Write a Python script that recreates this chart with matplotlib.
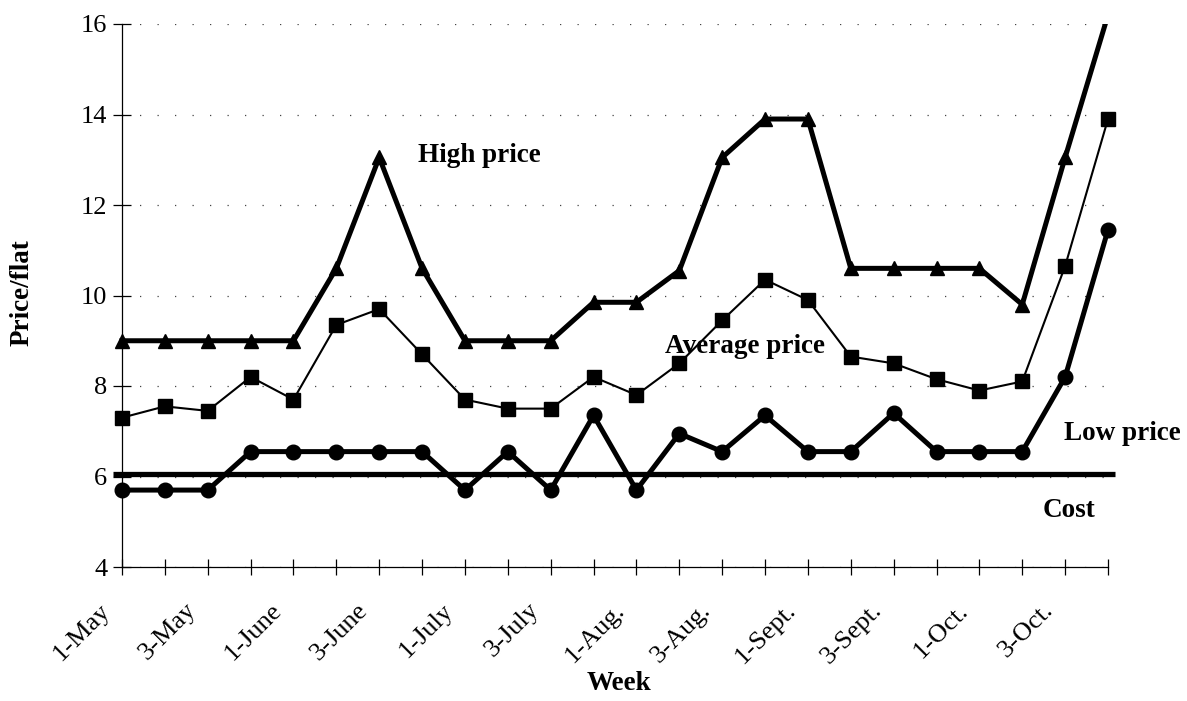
import matplotlib
matplotlib.use("Agg")
import matplotlib.pyplot as plt
from matplotlib.patches import Rectangle
from matplotlib.transforms import ScaledTranslation

# Weekly flat prices, May to October
weeks = ["1-May", "2-May", "3-May", "4-May",
         "1-June", "2-June", "3-June", "4-June",
         "1-July", "2-July", "3-July", "4-July",
         "1-Aug.", "2-Aug.", "3-Aug.", "4-Aug.",
         "1-Sept.", "2-Sept.", "3-Sept.", "4-Sept.",
         "1-Oct.", "2-Oct.", "3-Oct.", "4-Oct."]
high_price = [9.0, 9.0, 9.0, 9.0, 9.0, 10.6, 13.05, 10.6,
              9.0, 9.0, 9.0, 9.85, 9.85, 10.55, 13.05, 13.9,
              13.9, 10.6, 10.6, 10.6, 10.6, 9.8, 13.05, 16.2]
average_price = [7.3, 7.55, 7.45, 8.2, 7.7, 9.35, 9.7, 8.7,
                 7.7, 7.5, 7.5, 8.2, 7.8, 8.5, 9.45, 10.35,
                 9.9, 8.65, 8.5, 8.15, 7.9, 8.1, 10.65, 13.9]
low_price = [5.7, 5.7, 5.7, 6.55, 6.55, 6.55, 6.55, 6.55,
             5.7, 6.55, 5.7, 7.35, 5.7, 6.95, 6.55, 7.35,
             6.55, 6.55, 7.4, 6.55, 6.55, 6.55, 8.2, 11.45]
cost = 6.05
y_ticks = [4, 6, 8, 10, 12, 14, 16]

plt.rcParams['font.family'] = ['Liberation Serif', 'DejaVu Serif']

W, H = 1187, 701
fig = plt.figure(figsize=(W / 100, H / 100), dpi=100)
ax = fig.add_axes([122 / W, (H - 567) / H, (1108 - 122) / W, (567 - 24) / H])

x = list(range(len(weeks)))
ax.set_xlim(0, len(weeks) - 1)
ax.set_ylim(y_ticks[0], y_ticks[-1])

# series may spill sideways past the frame but are cut at the top
clip = Rectangle((-1, y_ticks[0] - 1), len(weeks) + 1, y_ticks[-1] - y_ticks[0] + 1,
                 transform=ax.transData)

ax.axhline(cost, xmin=-0.009, xmax=1.007, color='black', lw=3.8, clip_on=False,
           solid_capstyle='butt')

series = [
    (low_price, 'o', 10.5, 3.6),
    (average_price, 's', 9.5, 1.5),
    (high_price, '^', 10.5, 3.6),
]
for values, marker, ms, lw in series:
    line, = ax.plot(x, values, color='black', lw=lw, marker=marker, ms=ms,
                    markerfacecolor='black', markeredgecolor='black')
    line.set_clip_path(clip)

ax.set_yticks(y_ticks)
ax.yaxis.grid(True, linestyle=(0, (1, 13)), color='#444444', lw=0.9)
ax.set_axisbelow(True)

for side in ('top', 'right'):
    ax.spines[side].set_visible(False)
for side in ('left', 'bottom'):
    ax.spines[side].set_linewidth(0.9)

ax.set_xticks(x)
ax.set_xticklabels([w if i % 2 == 0 else '' for i, w in enumerate(weeks)],
                   rotation=45, ha='right', va='center', rotation_mode='anchor')
ax.tick_params(axis='y', direction='inout', length=13, width=0.9,
               labelsize=19, pad=4)
ax.tick_params(axis='x', direction='inout', length=11.5, width=0.9,
               labelsize=19, pad=23)
shift = ScaledTranslation(-15 / 100, 0, fig.dpi_scale_trans)
for lab in ax.get_xticklabels():
    lab.set_transform(lab.get_transform() + shift)

bold = dict(weight='bold', size=19.5, va='baseline', ha='left')
fig.text(418 / W, 1 - 162 / H, 'High price', **bold)
fig.text(665 / W, 1 - 353 / H, 'Average price', **bold)
fig.text(1064 / W, 1 - 440 / H, 'Low price', **bold)
fig.text(1043 / W, 1 - 517 / H, 'Cost', **bold)

fig.text(619 / W, 1 - 690 / H, 'Week', weight='bold', size=19.5,
         ha='center', va='baseline')
fig.text(22 / W, 1 - 293 / H, 'Price/flat', weight='bold', size=19.5,
         ha='center', va='center', rotation=90)

fig.savefig('out.png', dpi=100)
